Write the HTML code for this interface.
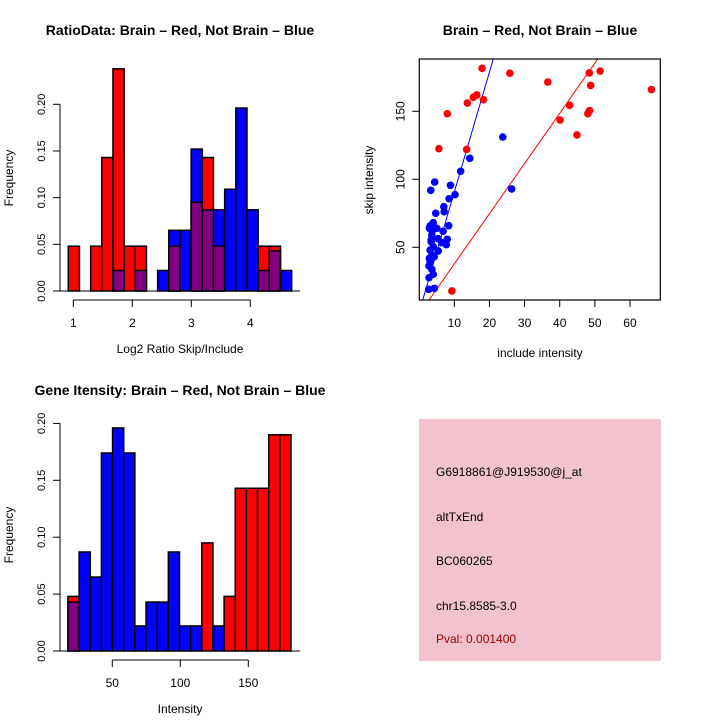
<!DOCTYPE html>
<html><head><meta charset="utf-8"><style>
html,body{margin:0;padding:0;background:#fff;}
svg{display:block;font-family:"Liberation Sans",Arial,sans-serif;}
</style></head><body>
<svg id="root" width="720" height="720" viewBox="0 0 720 720" xmlns="http://www.w3.org/2000/svg">
<rect width="720" height="720" fill="#fff"/>
<g id="p1"></g>
<g id="p2"></g>
<g id="p3"></g>
<g>
<rect x="419" y="419" width="242" height="242" fill="#f2c3ce"/>
<text x="436" y="476" font-size="12">G6918861@J919530@j_at</text>
<text x="436" y="521" font-size="12">altTxEnd</text>
<text x="436" y="565" font-size="12">BC060265</text>
<text x="436" y="610" font-size="12">chr15.8585-3.0</text>
<text x="436" y="643" font-size="12" fill="#a00000">Pval: 0.001400</text>
</g>
</svg>
<script>
// Histogram 1 data
const ratioBinStart = 0.915;
const ratioBinWidth = 0.1893;
const ratioRed = [0.048,0,0.048,0.143,0.238,0.048,0.048,0,0,0.048,0,0.095,0.143,0.048,0,0,0,0.048,0.048,0];
const ratioBlue = [0,0,0,0,0.022,0,0.022,0,0.022,0.065,0.065,0.152,0.087,0.087,0.109,0.196,0.087,0.022,0.043,0.022];
const ratioXTicks = [1,2,3,4];
const freqTicks = ["0.00","0.05","0.10","0.15","0.20"];
// Histogram 3 data
const intBinStart = 17.4;
const intBinWidth = 8.2;
const intRed = [0.048,0,0,0,0,0,0,0,0,0,0,0,0.095,0,0.048,0.143,0.143,0.143,0.190,0.190];
const intBlue = [0.043,0.087,0.065,0.174,0.196,0.174,0.022,0.043,0.043,0.087,0.022,0.022,0,0.022,0,0,0,0,0,0];
const intXTicks = [50,100,150];
// Scatter data
const redX = [17.9,25.8,36.6,51.5,48.4,48.8,66.1,42.8,40.1,44.9,48.5,48.0,8.0,5.6,13.5,13.7,15.4,16.4,18.3,9.3];
const redY = [181.6,178,171.5,179.6,178.2,169,166,154.4,143.6,132.6,150.5,148.2,148.2,122.5,122,156.1,160.3,162,158.5,17.9];
const blueX = [23.8,26.3,14.4,11.8,4.4,3.3,8.9,10.2,8.5,7.0,7.1,4.7,8.4,6.8,8.0,7.7,4.0,3.1,2.9,5.0,3.6,5.4,3.4,4.0,3.1,5.4,3.6,2.9,4.3,3.1,2.8,3.6,4.0,2.8,2.7,4.3,3.4,3.7,6.4];
const blueY = [131.1,92.9,115.4,105.9,98,91.9,95.6,88.7,85.7,79.9,76.2,75,65.9,61.8,55.9,51.9,68.1,65.7,64,64,59,56.3,54.1,50.4,48,47.3,44.3,41.9,43.1,39.4,36.3,33.8,30.1,27.7,19.1,19.8,55.4,62,53.4];
const blueLine = [2.5, 8.82];
const redLine = [0.9, 3.69];
const scatterXTicks = [10,20,30,40,50,60];
const scatterYTicks = [50,100,150];

const NS="http://www.w3.org/2000/svg";
function mk(parent,tag,attrs,txt){const e=document.createElementNS(NS,tag);for(const k in attrs)e.setAttribute(k,attrs[k]);if(txt!==undefined)e.textContent=txt;parent.appendChild(e);return e;}

function hist(g,cfg){
  const sx=v=>cfg.x0px+(v-cfg.x0)*cfg.xs;
  const sy=v=>cfg.y0px-v*cfg.ys;
  for(let i=0;i<cfg.red.length;i++){
    const a=cfg.binStart+i*cfg.binW,b=a+cfg.binW;
    const r=cfg.red[i],bl=cfg.blue[i];
    const x=sx(a),w=sx(b)-sx(a);
    if(r>0){const e=mk(g,'rect',{x:x,y:sy(r),width:w,height:sy(0)-sy(r),fill:'#ff0000',stroke:'#000','stroke-width':1.5});
      
      }
    if(bl>0){const col=r>0?'#800080':'#0000ff';
      if(r>0&&bl>r){const e2=mk(g,'rect',{x:x,y:sy(bl),width:w,height:sy(0)-sy(bl),fill:'#0000ff',stroke:'#000','stroke-width':1.5});
        
        }
      const h=r>0?Math.min(r,bl):bl;
      const e=mk(g,'rect',{x:x,y:sy(h),width:w,height:sy(0)-sy(h),fill:col,stroke:'#000','stroke-width':1.5});
      
      }
  }
  // y axis
  const ya=mk(g,'line',{x1:cfg.yaxX,x2:cfg.yaxX,y1:sy(0),y2:sy(0.2),stroke:'#000','stroke-width':1});
  
  
  freqTicks.forEach(t=>{const v=parseFloat(t);const y=sy(v);
    mk(g,'line',{x1:cfg.yaxX-7,x2:cfg.yaxX,y1:y,y2:y,stroke:'#000'});
    const tx=mk(g,'text',{x:0,y:0,transform:`translate(${cfg.yaxX-15},${y}) rotate(-90)`,'text-anchor':'middle','font-size':11},t);
    
    });
  // baseline
  mk(g,'line',{x1:cfg.yaxX,x2:cfg.xEnd,y1:sy(0),y2:sy(0),stroke:'#000'});
  // x axis
  const xa=mk(g,'line',{x1:sx(cfg.xticks[0]),x2:sx(cfg.xticks[cfg.xticks.length-1]),y1:cfg.xaxY,y2:cfg.xaxY,stroke:'#000'});
  
  
  cfg.xticks.forEach(v=>{const x=sx(v);mk(g,'line',{x1:x,x2:x,y1:cfg.xaxY,y2:cfg.xaxY+7,stroke:'#000'});
    const tx=mk(g,'text',{x:x,y:cfg.xaxY+27,'text-anchor':'middle','font-size':12},String(v));
    
    });
  const t=mk(g,'text',{x:180,y:cfg.titleY,'text-anchor':'middle','font-size':14,'font-weight':'bold'},cfg.title);
  
  
  const xl=mk(g,'text',{x:cfg.xlabX,y:cfg.xaxY+53,'text-anchor':'middle','font-size':12},cfg.xlab);
  
  
  const yl=mk(g,'text',{x:0,y:0,transform:`translate(13,${cfg.ylabY}) rotate(-90)`,'text-anchor':'middle','font-size':12},'Frequency');
  
  
}

hist(document.getElementById('p1'),{red:ratioRed,blue:ratioBlue,binStart:ratioBinStart,binW:ratioBinWidth,
  x0:1,x0px:73.3,xs:59,y0px:291,ys:933.5,yaxX:60,xEnd:300,xaxY:300,xticks:ratioXTicks,
  title:'RatioData: Brain \u2013 Red, Not Brain \u2013 Blue',titleY:35,xlab:'Log2 Ratio Skip/Include',xlabX:180,ylabY:178});
hist(document.getElementById('p3'),{red:intRed,blue:intBlue,binStart:intBinStart,binW:intBinWidth,
  x0:50,x0px:112.3,xs:1.36,y0px:651,ys:1138,yaxX:60,xEnd:300,xaxY:660,xticks:intXTicks,
  title:'Gene Itensity: Brain \u2013 Red, Not Brain \u2013 Blue',titleY:395,xlab:'Intensity',xlabX:180,ylabY:535});

// scatter
(function(){
  const g=document.getElementById('p2');
  const sx=v=>419.2+v*3.513, sy=v=>315.3-v*1.36;
  const L=419.3,R=660.3,T=59,B=300;
  const cp=mk(g,'clipPath',{id:'sclip'});mk(cp,'rect',{x:L,y:T,width:R-L,height:B-T});
  const lg=mk(g,'g',{'clip-path':'url(#sclip)'});
  [[blueLine,'#0000ff','blue-fit-line'],[redLine,'#ff0000','red-fit-line']].forEach(([ln,c,n])=>{
    const x1=0,x2=70;
    const e=mk(lg,'line',{x1:sx(x1),y1:sy(ln[0]+ln[1]*x1),x2:sx(x2),y2:sy(ln[0]+ln[1]*x2),stroke:c,'stroke-width':1});
    
    });
  redX.forEach((x,i)=>{const c=mk(g,'circle',{cx:sx(x),cy:sy(redY[i]),r:3.8,fill:'#ff0000'});
    
    });
  blueX.forEach((x,i)=>{const c=mk(g,'circle',{cx:sx(x),cy:sy(blueY[i]),r:3.8,fill:'#0000ff'});
    
    });
  const box=mk(g,'rect',{x:L,y:T,width:R-L,height:B-T,fill:'none',stroke:'#000','stroke-width':1.2});
  
  
  scatterXTicks.forEach(v=>{const x=sx(v);mk(g,'line',{x1:x,x2:x,y1:B,y2:B+7,stroke:'#000'});
    const t=mk(g,'text',{x:x,y:B+27,'text-anchor':'middle','font-size':12},String(v));
    
    });
  scatterYTicks.forEach(v=>{const y=sy(v);mk(g,'line',{x1:L-7,x2:L,y1:y,y2:y,stroke:'#000'});
    const t=mk(g,'text',{x:0,y:0,transform:`translate(${L-15},${y}) rotate(-90)`,'text-anchor':'middle','font-size':12},String(v));
    
    });
  const ti=mk(g,'text',{x:540,y:35,'text-anchor':'middle','font-size':14,'font-weight':'bold'},'Brain \u2013 Red, Not Brain \u2013 Blue');
  
  
  const xl=mk(g,'text',{x:540,y:357,'text-anchor':'middle','font-size':12},'include intensity');
  
  
  const yl=mk(g,'text',{x:0,y:0,transform:`translate(373,180) rotate(-90)`,'text-anchor':'middle','font-size':12},'skip intensity');
  
  
})();
</script>
</body></html>
